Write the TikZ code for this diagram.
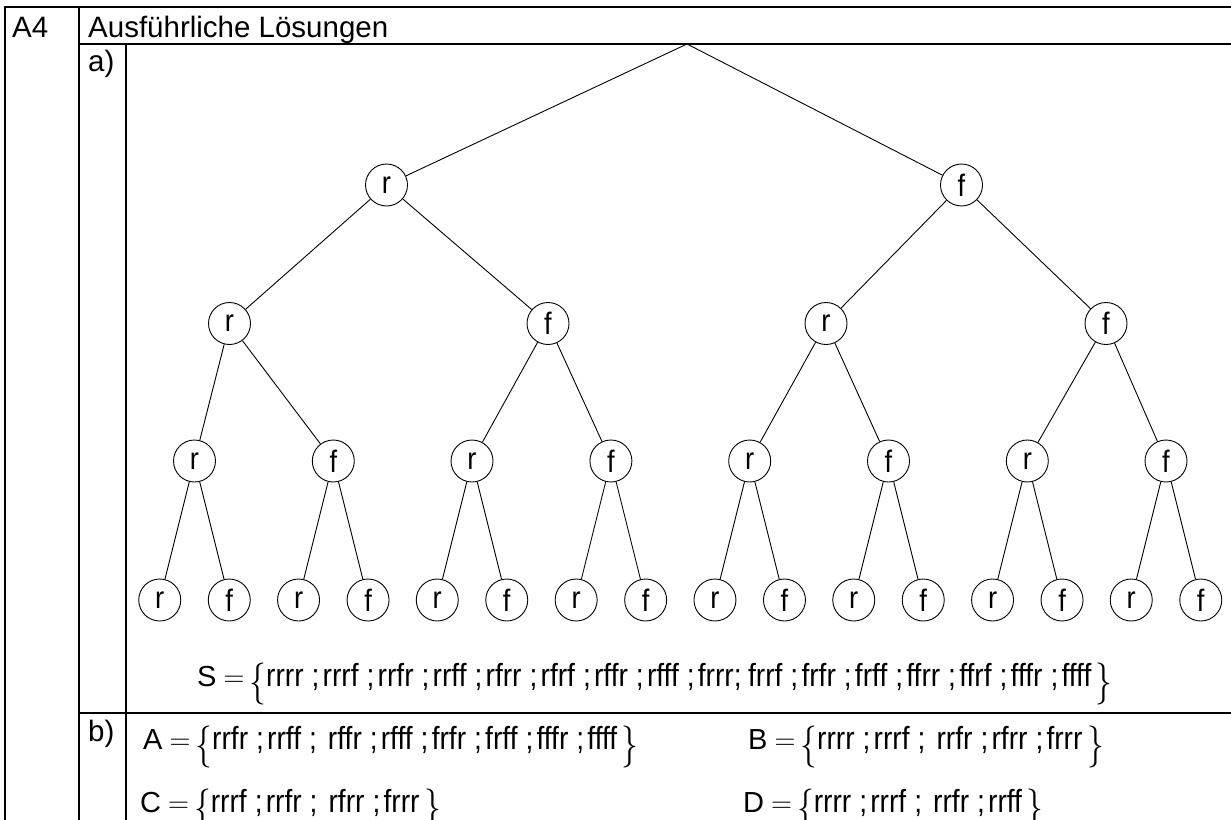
\RequirePackage{fix-cm}
\documentclass[tikz,border=0pt]{standalone}
\usepackage{fontspec}
\setmainfont{Liberation Sans}
\newfontfamily\setfont[FakeStretch=0.88]{Liberation Sans}
\newcommand{\lbr}{\raisebox{-8.5pt}{\scalebox{0.8}[1]{\fontsize{42}{44}\selectfont$\{$}}}
\newcommand{\rbr}{\raisebox{-8.5pt}{\scalebox{0.8}[1]{\fontsize{42}{44}\selectfont$\}$}}}
\newcommand{\sm}{\hspace{0.25em};\hspace{0.1em}}
\newcommand{\eqs}[2]{{\fontsize{29}{32}\selectfont #1\hspace{7pt}$=$\hspace{5pt}\lbr}{\setfont\fontsize{32}{34}\selectfont #2\hspace{0.15em}}\rbr}
\begin{document}
\begin{tikzpicture}[x=1pt,y=-1pt,
  frame/.style={line width=2pt,line cap=rect},
  edge/.style={line width=0.9pt},
  tn/.style={circle,draw,line width=0.9pt,minimum size=42pt,inner sep=0pt,font=\setfont\fontsize{31}{32}\selectfont},
  lbl/.style={anchor=base west,inner sep=0pt,font=\fontsize{29.5}{32}\selectfont},
  eq/.style={anchor=base west,inner sep=0pt,font=\fontsize{29}{32}\selectfont}]
\useasboundingbox (0,0) rectangle (1231,819);
% table
\draw[frame] (5,819) -- (5,7) -- (1231,7);
\draw[frame] (79,7) -- (79,819);
\draw[frame] (79,43.5) -- (1231,43.5);
\draw[frame] (126,43.5) -- (126,819);
\draw[frame] (79,713) -- (1231,713);
\node[lbl] (a4) at (12,37) {A4};
\node[lbl] (head) at (88,37) {Ausführliche Lösungen};
\node[lbl] (la) at (88,71) {a)};
\node[lbl] (lb) at (88,741) {b)};
% tree
\coordinate (root) at (687,44);
\node[tn] (r) at (386.5,185) {r};
\node[tn] (f) at (961.5,185) {f};
\node[tn] (rr) at (229.5,323.5) {r};
\node[tn] (rf) at (548,323.5) {f};
\node[tn] (fr) at (826,323.5) {r};
\node[tn] (ff) at (1106,323.5) {f};
\node[tn] (rrr) at (194.5,461) {r};
\node[tn] (rrf) at (333.3,461) {f};
\node[tn] (rfr) at (472,461) {r};
\node[tn] (rff) at (610.9,461) {f};
\node[tn] (frr) at (749.7,461) {r};
\node[tn] (frf) at (888.5,461) {f};
\node[tn] (ffr) at (1027.3,461) {r};
\node[tn] (fff) at (1166,461) {f};
\foreach \p/\x in {rrr/194.5,rrf/333.3,rfr/472,rff/610.9,frr/749.7,frf/888.5,ffr/1027.3,fff/1166}{
  \node[tn] (\p r) at (\x-34.75,600) {r};
  \node[tn] (\p f) at (\x+34.75,600) {f};
  \draw[edge] (\p) -- (\p r);
  \draw[edge] (\p) -- (\p f);
}
\draw[edge] (root) -- (r);
\draw[edge] (root) -- (f);
\draw[edge] (r) -- (rr);
\draw[edge] (r) -- (rf);
\draw[edge] (f) -- (fr);
\draw[edge] (f) -- (ff);
\draw[edge] (rr) -- (rrr);
\draw[edge] (rr) -- (rrf);
\draw[edge] (rf) -- (rfr);
\draw[edge] (rf) -- (rff);
\draw[edge] (fr) -- (frr);
\draw[edge] (fr) -- (frf);
\draw[edge] (ff) -- (ffr);
\draw[edge] (ff) -- (fff);
% sets
\node[eq] (S) at (197,686) {\eqs{S}{rrrr\sm rrrf\sm rrfr\sm rrff\sm rfrr\sm rfrf\sm rffr\sm rfff\sm frrr;\hspace{0.2em}frrf\sm frfr\sm frff\sm ffrr\sm ffrf\sm fffr\sm ffff}};
\node[eq] (A) at (143,749) {\eqs{A}{rrfr\sm rrff\sm\ rffr\sm rfff\sm frfr\sm frff\sm fffr\sm ffff}};
\node[eq] (B) at (748,749) {\eqs{B}{rrrr\sm rrrf\sm\ rrfr\sm rfrr\sm frrr}};
\node[eq] (C) at (140,812) {\eqs{C}{rrrf\sm rrfr\sm\ rfrr\sm frrr}};
\node[eq] (D) at (743,812) {\eqs{D}{rrrr\sm rrrf\sm\ rrfr\sm rrff}};
\end{tikzpicture}
\end{document}
